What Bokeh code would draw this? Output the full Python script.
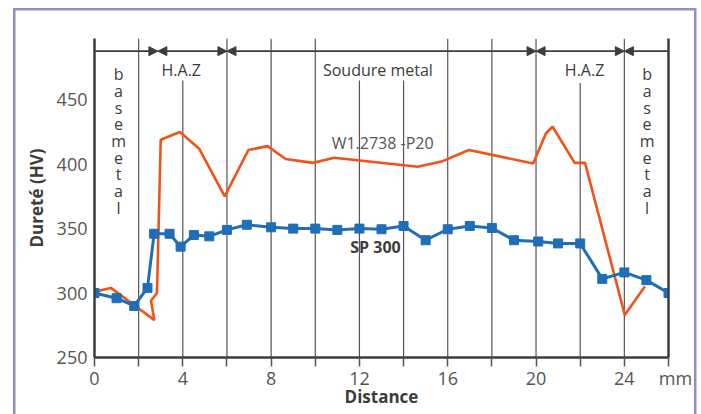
from bokeh.plotting import figure
from bokeh.models import (FixedTicker, LinearAxis, Range1d, Arrow, NormalHead,
                          ColumnDataSource)
from bokeh.core.properties import value
from bokeh.embed import file_html
from bokeh.resources import INLINE

# ---------------- data ----------------
sp300_x = [0, 1, 1.8, 2.4, 2.7, 3.4, 3.9, 4.5, 5.2, 6, 6.9, 8, 9, 10, 11, 12, 13,
           14, 15, 16, 17, 18, 19, 20.1, 21, 22, 23, 24, 25, 26]
sp300_hv = [300, 296, 290, 304, 346, 346, 336, 345, 344, 349, 353, 351, 350, 350,
            349, 350, 349.5, 352, 341, 349.5, 352, 350.5, 341, 340, 338.5, 338.5,
            311, 316, 310, 300]

p20_x = [0, 0.74, 1.85, 2.71, 2.56, 2.83, 3.0, 3.87, 4.74, 5.9, 6.97, 7.84, 8.66,
         9.9, 10.86, 14.64, 15.72, 16.96, 19.87, 20.45, 20.75, 21.75, 22.22, 24.02,
         24.93]
p20_hv = [301, 304, 290, 279, 294, 300, 419, 425, 412, 375, 411, 414, 404, 401,
          405, 398, 402, 411, 400.5, 424, 429, 401, 401, 283, 305]

x_ticks = [0, 2, 4, 6, 8, 10, 12, 14, 16, 18, 20, 22, 24, 26]
x_tick_labels = {0: "0", 4: "4", 8: "8", 12: "12", 16: "16", 20: "20", 24: "24",
                 26: "\u00a0\u00a0\u00a0mm"}
y_ticks = [250, 300, 350, 400, 450]

# zone boundaries (mm) and zone names
zone_bounds = [0, 2.87, 6, 20, 24, 26]
zone_names = ["base metal", "H.A.Z", "Soudure  metal", "H.A.Z", "base metal"]

# vertical guide lines: position and top (HV units)
guide_x = [2, 4, 6, 8, 10, 12, 14, 16, 18, 20, 22, 24]
guide_top = [497.5, 465, 497.5, 497.5, 497.5, 465, 465, 497.5, 497.5, 497.5, 463, 497.5]

FONT = "Open Sans"
DARK = "#3c3c3c"
GRAY = "#555555"
BLUE = "#1f6eb6"
ORANGE = "#f0521b"
FRAME = "#938fc4"

p = figure(width=701, height=414, x_range=Range1d(0, 26), y_range=Range1d(250, 497.5),
           output_backend="svg", toolbar_location=None,
           min_border_left=94, min_border_right=33, min_border_top=38,
           min_border_bottom=57)
p.grid.visible = False
p.outline_line_color = None
p.background_fill_color = "white"
p.border_fill_color = None
p.styles = {
    "background-color": "white",
    "background-image": (f"linear-gradient({FRAME},{FRAME}), "
                         f"linear-gradient({FRAME},{FRAME}), "
                         f"linear-gradient({FRAME},{FRAME})"),
    "background-position": "13px 8px, 13px 8px, 694px 8px",
    "background-size": "2.5px 500px, 683px 2.5px, 2.5px 500px",
    "background-repeat": "no-repeat",
}

# axes
xa = p.xaxis[0]
xa.ticker = FixedTicker(ticks=x_ticks)
xa.major_label_overrides = {t: x_tick_labels.get(t, "") for t in x_ticks}
xa.major_tick_in = 0
xa.major_tick_out = 9
xa.major_tick_line_color = GRAY
xa.major_tick_line_width = 1.5
xa.minor_tick_line_color = None
xa.major_label_standoff = -1
xa.major_label_text_font = FONT
xa.major_label_text_font_size = "18px"
xa.major_label_text_color = GRAY
xa.axis_line_color = DARK
xa.axis_line_width = 2.5
xa.axis_label = "Distance"
xa.axis_label_text_font = FONT
xa.axis_label_text_font_style = "bold"
xa.axis_label_text_font_size = "17px"
xa.axis_label_text_color = DARK
xa.axis_label_standoff = -8

ya = p.yaxis[0]
ya.ticker = FixedTicker(ticks=y_ticks)
ya.major_tick_in = 0
ya.major_tick_out = 0
ya.minor_tick_line_color = None
ya.major_label_standoff = 7
ya.major_label_text_font = FONT
ya.major_label_text_font_size = "18px"
ya.major_label_text_color = GRAY
ya.axis_line_color = DARK
ya.axis_line_width = 2.5
ya.axis_label = "Dureté (HV)"
ya.axis_label_text_font = FONT
ya.axis_label_text_font_style = "bold"
ya.axis_label_text_font_size = "17px"
ya.axis_label_text_color = DARK
ya.axis_label_standoff = 6

ra = LinearAxis(ticker=FixedTicker(ticks=[]), axis_line_color=DARK, axis_line_width=2.5,
                major_tick_line_color=None, minor_tick_line_color=None,
                major_label_text_font_size="0px")
p.add_layout(ra, "right")

# guide lines
p.segment(x0=guide_x, y0=[250] * len(guide_x), x1=guide_x, y1=guide_top,
          line_color=GRAY, line_width=1.2)

# zone arrows
arrow_y = 487.7
for i in range(len(zone_names)):
    a, b = zone_bounds[i], zone_bounds[i + 1]
    sh = None if a == zone_bounds[0] else NormalHead(size=9, fill_color=DARK, line_color=DARK, line_width=1)
    eh = None if b == zone_bounds[-1] else NormalHead(size=9, fill_color=DARK, line_color=DARK, line_width=1)
    p.add_layout(Arrow(x_start=a, y_start=arrow_y, x_end=b, y_end=arrow_y,
                       start=sh, end=eh, line_color=DARK, line_width=1.8))

# zone labels
hz = ColumnDataSource(dict(x=[3.93, 12.93, 22.2], y=[472.7] * 3,
                           t=[zone_names[1], zone_names[2], zone_names[3]]))
p.text(x="x", y="y", text="t", source=hz, text_align="center", text_baseline="middle",
       text_font=value(FONT), text_font_size="16px", text_color=DARK)

# vertical "base metal" labels
letters = list(zone_names[0].replace(" ", ""))
for xc in (1.09, 25.03):
    ys = [469.6 - 12.93 * i for i in range(len(letters))]
    p.text(x=[xc] * len(letters), y=ys, text=letters, text_align="center",
           text_baseline="alphabetic", text_font=value(FONT), text_font_size="16px",
           text_color=DARK)

# series
p.line(p20_x, p20_hv, line_color=ORANGE, line_width=2.6)
p.line(sp300_x, sp300_hv, line_color=BLUE, line_width=3)
p.scatter(sp300_x, sp300_hv, marker="square", size=9, fill_color=BLUE, line_color=BLUE)

# series labels
p.text(x=[13.05], y=[416.1], text=["W1.2738 -P20"], text_align="center",
       text_baseline="middle", text_font=value(FONT), text_font_size="16px", text_color=GRAY)
p.text(x=[12.73], y=[335.5], text=["SP 300"], text_align="center",
       text_baseline="middle", text_font=value(FONT), text_font_size="16px",
       text_font_style="bold", text_color=DARK)

open("out.html", "w").write(file_html(p, INLINE))
